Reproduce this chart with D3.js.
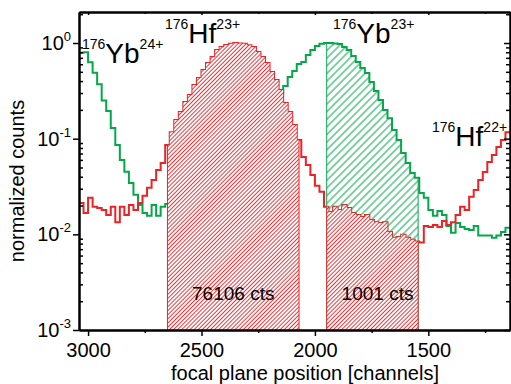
<!DOCTYPE html>
<html>
<head>
<meta charset="utf-8">
<script src="https://cdn.jsdelivr.net/npm/d3@7"></script>
<style>
  body { margin: 0; background: #fff; }
  svg { display: block; font-family: Arial, "Liberation Sans", sans-serif; }
</style>
</head>
<body>
<svg id="chart" width="511" height="384"></svg>
<script>

// histogram bins: upper edge of first bin and bin width (channels)
var firstBin = 3060;
var binWidth = 20;

// 176Yb (green), normalized counts per bin
var ybCounts = [0.168,
  0.79, 0.80, 0.63, 0.49, 0.37, 0.25, 0.195, 0.129, 0.086, 0.060,
  0.045, 0.0345, 0.026, 0.0203, 0.0167, 0.0156, 0.0203, 0.0156, 0.0194, 0.0208,
  0.0213, 0.0203, 0.018, 0.0163, 0.0141, 0.0175, 0.0163, 0.0134, 0.0145, 0.0156,
  0.0148, 0.0171, 0.0189, 0.0213, 0.0291, 0.0345, 0.045, 0.0557, 0.0676, 0.086,
  0.115, 0.157, 0.20, 0.254, 0.293, 0.355, 0.441, 0.51, 0.603, 0.633,
  0.749, 0.845, 0.93, 0.98, 1.0, 1.0, 0.99, 0.976, 0.908, 0.845,
  0.731, 0.633, 0.548, 0.486, 0.391, 0.315, 0.254, 0.20, 0.164, 0.123,
  0.097, 0.071, 0.0557, 0.0438, 0.039, 0.0271, 0.0241, 0.018, 0.0156, 0.0175,
  0.0159, 0.0122, 0.0104, 0.0131, 0.0119, 0.0114, 0.0111, 0.0122, 0.0097, 0.0097,
  0.0097, 0.0092, 0.0097, 0.0106, 0.0117];

// 176Hf (red), normalized counts per bin
var hfCounts = [0.0104,
  0.0213, 0.0167, 0.0241, 0.0194, 0.0189, 0.018, 0.0159, 0.0194, 0.0134, 0.0194,
  0.0159, 0.0203, 0.018, 0.0213, 0.0253, 0.0307, 0.037, 0.047, 0.0557, 0.086,
  0.117, 0.157, 0.19, 0.242, 0.286, 0.364, 0.431, 0.522, 0.618, 0.714,
  0.845, 0.908, 0.953, 0.98, 1.0, 0.99, 0.98, 0.95, 0.908, 0.805,
  0.714, 0.618, 0.498, 0.41, 0.323, 0.236, 0.19, 0.139, 0.097, 0.0645,
  0.0532, 0.0418, 0.0322, 0.0278, 0.0194, 0.0171, 0.0194, 0.018, 0.0203, 0.0189,
  0.0167, 0.0159, 0.0152, 0.0159, 0.0141, 0.0134, 0.0131, 0.0134, 0.0106, 0.0092,
  0.0094, 0.0099, 0.0092, 0.0088, 0.0084, 0.0082, 0.0122, 0.0119, 0.0125, 0.0119,
  0.0138, 0.0125, 0.0134, 0.0159, 0.0194, 0.018, 0.0247, 0.0291, 0.037, 0.0449,
  0.0571, 0.0676, 0.082, 0.097, 0.117];

// integration windows (channels) and their count labels
var hfWindows = [[2650, 2070], [1948, 1545]];
var ybWindows = [[1948, 1545]];
var windowLabels = ['76106 cts', '1001 cts'];
var windowLabelChannels = [2360, 1724];

// ion labels
var ionMass = ['176', '176', '176', '176'];
var ionElement = ['Yb', 'Hf', 'Yb', 'Hf'];
var ionCharge = ['24+', '23+', '23+', '22+'];

// axes
var xTicks = [3000, 2500, 2000, 1500];
var xMinorTicks = [2750, 2250, 1750, 1250];
var yDecades = [-3, -2, -1, 0];
var xTitle = 'focal plane position [channels]';
var yTitle = 'normalized counts';

var red = '#ec2227';
var green = '#06a64b';

var margin = {top: 12, right: 1, bottom: 54, left: 79};
var width = 511 - margin.left - margin.right;
var height = 384 - margin.top - margin.bottom;

var x = d3.scaleLinear().domain([3040, 1140]).range([0, width]);
var y = d3.scaleLog().domain([1e-3, 2.11]).range([height, 0]);

var svg = d3.select('#chart');
var defs = svg.append('defs');

function hatch(id, size, color, sw, bg)
{
  var p = defs.append('pattern')
      .attr('id', id)
      .attr('patternUnits', 'userSpaceOnUse')
      .attr('width', size)
      .attr('height', size)
      .attr('patternTransform', 'rotate(45)');
  if (bg) p.append('rect').attr('width', size).attr('height', size).attr('fill', bg);
  p.append('line')
      .attr('x1', size / 2).attr('y1', 0)
      .attr('x2', size / 2).attr('y2', size)
      .attr('stroke', color)
      .attr('stroke-width', sw);
}

hatch('hatchRed', 2.9, red, 0.9, '#fff');
hatch('hatchGreen', 5.4, green, 1, null);

defs.append('clipPath').attr('id', 'plotClip')
    .append('rect').attr('width', width).attr('height', height);

var g = svg.append('g').attr('transform', 'translate(' + margin.left + ',' + margin.top + ')');

function steps(counts)
{
  var pts = counts.map((v, i) => ({c: firstBin - i * binWidth, v: v}));
  var last = counts.length - 1;
  pts.push({c: firstBin - (last + 1) * binWidth, v: counts[last]});
  return pts;
}

function valueAt(counts, ch)
{
  return counts[Math.floor((firstBin - ch) / binWidth)];
}

var line = d3.line().x(d => x(d.c)).y(d => y(d.v)).curve(d3.curveStepAfter);
var area = d3.area().x(d => x(d.c)).y0(height).y1(d => y(d.v)).curve(d3.curveStepAfter);

function drawWindows(counts, windows, fill, color, name)
{
  windows.forEach((w, i) => {
    var id = name + '-clip-' + i;
    defs.append('clipPath').attr('id', id)
        .append('rect')
        .attr('x', x(w[0]))
        .attr('y', 0)
        .attr('width', x(w[1]) - x(w[0]))
        .attr('height', height);

    g.append('path')
        .datum(steps(counts))
        .attr('clip-path', 'url(#' + id + ')')
        .attr('fill', fill)
        .attr('d', area);

    w.forEach(ch => {
      g.append('line')
          .attr('x1', x(ch)).attr('x2', x(ch))
          .attr('y1', height)
          .attr('y2', y(valueAt(counts, ch)))
          .attr('stroke', color)
          .attr('stroke-width', 1);
    });
  });
}

var plot = g.append('g').attr('clip-path', 'url(#plotClip)');

drawWindows(ybCounts, ybWindows, 'url(#hatchGreen)', green, 'yb');
drawWindows(hfCounts, hfWindows, 'url(#hatchRed)', red, 'hf');

plot.append('path')
    .datum(steps(ybCounts))
    .attr('fill', 'none')
    .attr('stroke', green)
    .attr('stroke-width', 2)
    .attr('d', line);

plot.append('path')
    .datum(steps(hfCounts))
    .attr('fill', 'none')
    .attr('stroke', red)
    .attr('stroke-width', 2)
    .attr('d', line);

// axes
var yMajor = yDecades.map(d => Math.pow(10, d));
var yMinor = [];
yDecades.forEach(d => {
  for (var m = 2; m <= 9; m++)
  {
    var v = m * Math.pow(10, d);
    if (v <= y.domain()[1]) yMinor.push(v);
  }
});

function styleAxis(sel)
{
  sel.select('.domain').attr('stroke', '#000').attr('stroke-width', 2);
  sel.selectAll('.tick line').attr('stroke', '#000').attr('stroke-width', 1.5);
  sel.selectAll('text').remove();
}

g.append('g')
    .attr('transform', 'translate(0,' + height + ')')
    .call(d3.axisBottom(x).tickValues(xTicks).tickSize(6).tickSizeOuter(0).tickFormat(d3.format('d')))
    .call(s => s.select('.domain').attr('stroke-width', 2))
    .call(s => s.selectAll('.tick line').attr('stroke-width', 1.5))
    .call(s => s.selectAll('.tick text')
      .attr('y', 27).attr('dy', null)
      .attr('font-size', 20).attr('font-family', 'Arial, "Liberation Sans", sans-serif')
      .attr('fill', '#000'));

g.append('g')
    .attr('transform', 'translate(0,' + height + ')')
    .call(d3.axisBottom(x).tickValues(xMinorTicks).tickSize(3).tickSizeOuter(0).tickFormat(''))
    .call(styleAxis);

g.append('g')
    .call(d3.axisTop(x).tickValues(xTicks).tickSize(-3).tickSizeOuter(0).tickFormat(''))
    .call(styleAxis);

g.append('g')
    .call(d3.axisTop(x).tickValues(xMinorTicks).tickSize(-2).tickSizeOuter(0).tickFormat(''))
    .call(styleAxis);

g.append('g')
    .call(d3.axisLeft(y).tickValues(yMajor).tickSize(6).tickSizeOuter(0).tickFormat(''))
    .call(styleAxis);

g.append('g')
    .call(d3.axisRight(y).tickValues(yMinor).tickSize(4).tickSizeOuter(0).tickFormat(''))
    .call(styleAxis);

g.append('g')
    .attr('transform', 'translate(' + width + ',0)')
    .call(d3.axisLeft(y).tickValues(yMajor).tickSize(6).tickSizeOuter(0).tickFormat(''))
    .call(styleAxis);

g.append('g')
    .attr('transform', 'translate(' + width + ',0)')
    .call(d3.axisLeft(y).tickValues(yMinor).tickSize(4).tickSizeOuter(0).tickFormat(''))
    .call(styleAxis);

// y tick labels 10^n
yDecades.forEach(d => {
  var t = g.append('text')
      .attr('x', -8)
      .attr('y', y(Math.pow(10, d)) + 7)
      .attr('text-anchor', 'end')
      .attr('font-size', 20);
  t.append('tspan').text('10');
  t.append('tspan').attr('dy', -9).attr('font-size', 13).text(d === 0 ? '0' : String(d));
});

// axis titles
svg.append('text')
    .attr('x', 305)
    .attr('y', 380)
    .attr('text-anchor', 'middle')
    .attr('font-size', 20)
    .text(xTitle);

svg.append('text')
    .attr('transform', 'translate(24,181) rotate(-90)')
    .attr('text-anchor', 'middle')
    .attr('font-size', 20)
    .text(yTitle);

// window count labels
windowLabels.forEach((lab, i) => {
  g.append('text')
      .attr('x', x(windowLabelChannels[i]))
      .attr('y', 288)
      .attr('text-anchor', 'middle')
      .attr('font-size', 19)
      .text(lab);
});

// ion labels
var ionPos = [[82, 63], [165, 43], [333, 43], [432, 146]];
ionMass.forEach((m, i) => {
  var t = svg.append('text')
      .attr('x', ionPos[i][0])
      .attr('y', ionPos[i][1]);
  t.append('tspan').attr('font-size', 14).attr('dy', -14).text(m);
  t.append('tspan').attr('font-size', 28).attr('dy', 14).text(ionElement[i]);
  t.append('tspan').attr('font-size', 14).attr('dy', -14).text(ionCharge[i]);
});

</script>
</body>
</html>
